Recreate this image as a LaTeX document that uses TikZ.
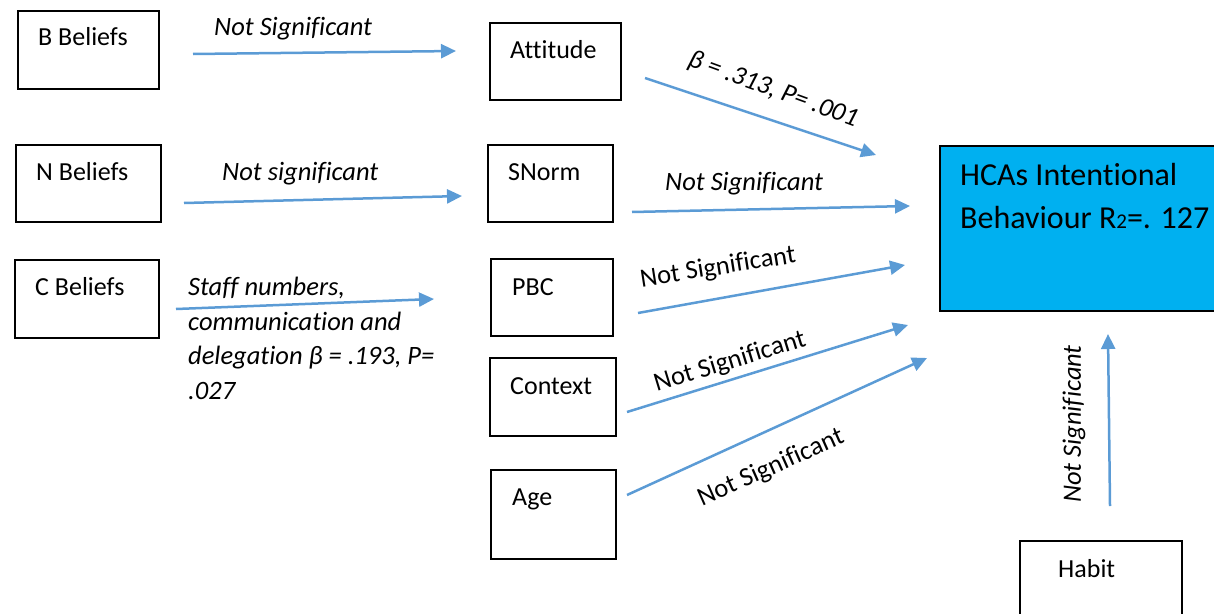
\documentclass[tikz,border=0pt]{standalone}
\usepackage{fontspec}
\setmainfont{Carlito}[Ligatures=NoCommon]
\usetikzlibrary{arrows.meta}
\definecolor{arrowblue}{HTML}{5B9BD5}
\definecolor{targetblue}{HTML}{00B0F0}
\begin{document}
\begin{tikzpicture}[x=1pt,y=-1pt,
  box/.style={draw=black, line width=2pt, anchor=north west, inner sep=0pt},
  txt/.style={anchor=base west, inner sep=0pt, font=\fontsize{26}{31}\selectfont},
  lab/.style={inner sep=0pt, font=\fontsize{26.5}{31}\selectfont\itshape},
  ulab/.style={inner sep=0pt, font=\fontsize{26.5}{31}\selectfont},
  link/.style={draw=arrowblue, line width=2.5pt, -{Triangle[length=15pt,width=14pt]}}]
\useasboundingbox (0,0) rectangle (1214,613);

% boxes
\node[box, minimum width=141pt, minimum height=78pt] (bb) at (17,10) {};
\node[box, minimum width=145pt, minimum height=77pt] (nb) at (15,144) {};
\node[box, minimum width=144pt, minimum height=78pt] (cb) at (14,259) {};
\node[box, minimum width=131pt, minimum height=77pt] (att) at (489,22) {};
\node[box, minimum width=125pt, minimum height=77pt] (sn) at (487,144) {};
\node[box, minimum width=122pt, minimum height=77pt] (pbc) at (490,258) {};
\node[box, minimum width=126pt, minimum height=78pt] (ctx) at (489,357) {};
\node[box, minimum width=125pt, minimum height=89pt] (age) at (490,469) {};
\node[box, fill=targetblue, minimum width=290pt, minimum height=165pt] (hca) at (939,145) {};
\node[box, minimum width=162pt, minimum height=90pt] (hab) at (1019,540) {};

% box texts
\node[txt] (bbt) at (38,45) {B Beliefs};
\node[txt] (nbt) at (36,180) {N Beliefs};
\node[txt] (cbt) at (35,295) {C Beliefs};
\node[txt] (attt) at (510,58) {Attitude};
\node[txt] (snt) at (508,180) {SNorm};
\node[txt] (pbct) at (512,295) {PBC};
\node[txt] (ctxt) at (510,394) {Context};
\node[txt] (aget) at (512,505) {Age};
\node[txt] (habt) at (1058,577) {Habit};
\node[txt, font=\fontsize{32}{38}\selectfont] (hcat1) at (960,185) {HCAs Intentional};
\node[txt, font=\fontsize{32}{38}\selectfont] (hcat2) at (960,228) {Behaviour R{\fontsize{21}{25}\selectfont 2}=. 127};

% arrow end points
\coordinate (a1s) at (193,54);  \coordinate (a1e) at (456,51);
\coordinate (a2s) at (184,203); \coordinate (a2e) at (462,196);
\coordinate (a3s) at (176,309); \coordinate (a3e) at (434,299);
\coordinate (a4s) at (645,78);  \coordinate (a4e) at (876,155);
\coordinate (a5s) at (632,212); \coordinate (a5e) at (910,206);
\coordinate (a6s) at (638,313); \coordinate (a6e) at (905,265);
\coordinate (a7s) at (627,412); \coordinate (a7e) at (908,325);
\coordinate (a8s) at (627,495); \coordinate (a8e) at (927,358);
\coordinate (a9s) at (1110,506); \coordinate (a9e) at (1108,334);

% labels
\node[lab, anchor=base west] (l1) at (214,35) {Not Significant};
\node[lab, anchor=base west] (l2) at (222,180) {Not significant};
\node[lab, anchor=north west, align=left, font=\fontsize{26.5}{34.5}\selectfont\itshape] (l3) at (188,277)
  {Staff numbers,\\communication and\\delegation β = .193, P=\\.027};
\node[lab, rotate=-20] (l4) at (773,90) {β = .313, P= .001};
\node[lab, anchor=base west] (l5) at (665,190) {Not Significant};
\node[ulab, rotate=9] (l6) at (718,268) {Not Significant};
\node[ulab, rotate=17] (l7) at (730,362) {Not Significant};
\node[ulab, rotate=24] (l8) at (771,468) {Not Significant};
\node[lab, rotate=90] (l9) at (1074,424) {Not Significant};

% connectors
\draw[link] (a1s) -- (a1e);
\draw[link] (a2s) -- (a2e);
\draw[link] (a3s) -- (a3e);
\draw[link] (a4s) -- (a4e);
\draw[link] (a5s) -- (a5e);
\draw[link] (a6s) -- (a6e);
\draw[link] (a7s) -- (a7e);
\draw[link] (a8s) -- (a8e);
\draw[link] (a9s) -- (a9e);
\end{tikzpicture}
\end{document}
